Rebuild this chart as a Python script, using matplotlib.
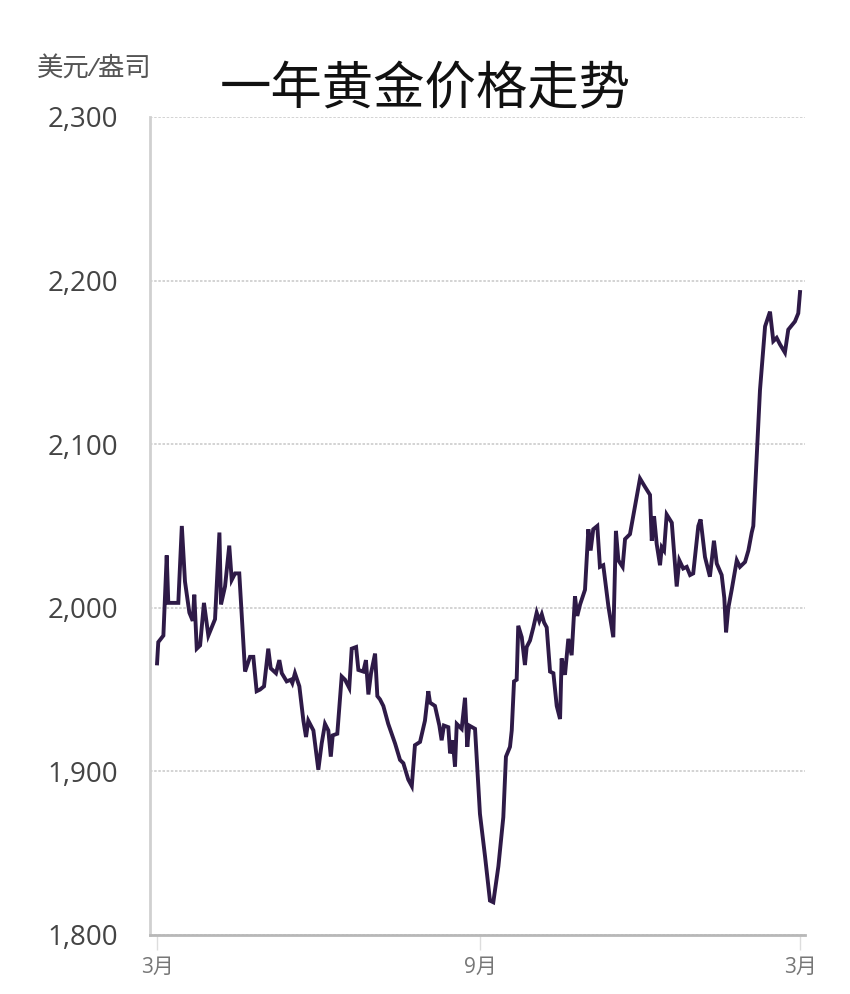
"""
一年黄金价格走势 (gold price, one year, USD/oz)
"""

import matplotlib
matplotlib.use("Agg")
import matplotlib.pyplot as plt

# days since start of March, price in USD/oz
days = [0, 0.7, 3.6, 5.5, 6.4, 12.1, 14.1, 15.9, 18.4, 20.3, 21.2, 22.6, 24.5,
        26.7, 29.2, 33.0, 35.5, 36.4, 38.7, 41.1, 42.5, 44.4, 46.8, 50.1, 52.9,
        54.8, 56.7, 58.6, 60.9, 63.3, 64.7, 67.7, 69.6, 71.0, 73.8, 76.1, 77.0,
        78.5, 81.0, 83.3, 84.8, 86.1, 89.0, 91.8, 93.7, 95.6, 97.5, 98.9, 100.0,
        102.6, 105.1, 107.0, 109.4, 110.8, 113.3, 114.6, 117.4, 118.9, 120.3,
        121.8, 124.1, 125.4, 126.9, 128.8, 131.6, 135.5, 138.3, 140.2, 143.0,
        145.0, 146.8, 149.7, 152.5, 154.4, 155.4, 158.2, 160.7, 162.0, 163.3,
        165.8, 166.8, 168.3, 169.6, 170.6, 173.4, 175.3, 176.6, 177.7, 181.0,
        183.8, 186.7, 189.5, 191.4, 194.3, 197.1, 198.6, 200.9, 201.9, 203.2,
        204.7, 205.6, 207.6, 209.4, 210.4, 212.3, 214.2, 216.1, 217.6, 219.0,
        220.3, 221.8, 223.7, 225.6, 227.5, 229.4, 230.3, 232.2, 234.1, 236.0,
        237.9, 239.2, 240.8, 243.6, 245.5, 246.8, 248.3, 250.6, 252.1, 254.0,
        256.9, 259.7, 261.2, 262.6, 265.0, 266.4, 269.2, 274.9, 277.7, 280.6,
        281.6, 282.9, 284.4, 286.3, 287.3, 288.6, 290.1, 293.0, 294.8, 295.8,
        297.3, 299.5, 301.5, 303.4, 305.2, 308.1, 309.4, 311.9, 314.7, 317.0,
        318.6, 321.4, 322.9, 323.9, 325.2, 327.1, 330.0, 331.8, 334.7, 336.6,
        338.5, 339.4, 343.2, 346.1, 348.9, 350.8, 352.7, 354.6, 357.4, 359.3,
        363.1, 365.0, 366.0]
price = [1966, 1979, 1983, 2032, 2003, 2003, 2050, 2016, 1997, 1992, 2008, 1975,
         1977, 2003, 1983, 1993, 2046, 2002, 2013, 2038, 2017, 2021, 2021, 1961,
         1970, 1970, 1949, 1950, 1952, 1975, 1963, 1960, 1968, 1960, 1955, 1956,
         1954, 1960, 1952, 1931, 1921, 1931, 1925, 1901, 1917, 1929, 1925, 1909,
         1922, 1923, 1958, 1956, 1951, 1975, 1976, 1962, 1961, 1968, 1947, 1960,
         1972, 1946, 1944, 1940, 1929, 1917, 1907, 1905, 1895, 1891, 1916, 1918,
         1931, 1949, 1942, 1940, 1928, 1919, 1928, 1927, 1911, 1919, 1903, 1929,
         1926, 1945, 1915, 1928, 1926, 1874, 1848, 1821, 1820, 1842, 1872, 1909,
         1915, 1925, 1955, 1956, 1989, 1982, 1965, 1976, 1980, 1988, 1997, 1992,
         1996, 1991, 1988, 1961, 1960, 1940, 1932, 1969, 1959, 1981, 1971, 2007,
         1995, 2002, 2011, 2048, 2035, 2048, 2050, 2025, 2026, 2001, 1982, 2047,
         2029, 2025, 2042, 2045, 2079, 2074, 2069, 2041, 2056, 2039, 2026, 2037,
         2035, 2057, 2052, 2027, 2013, 2029, 2024, 2025, 2020, 2021, 2050, 2054,
         2031, 2019, 2041, 2027, 2020, 2006, 1985, 2000, 2011, 2029, 2025, 2028,
         2035, 2046, 2050, 2133, 2172, 2181, 2163, 2165, 2161, 2156, 2170, 2175,
         2180, 2193]

tick_days = [0, 184, 366]
tick_labels = ["3月", "9月", "3月"]
yticks = [1800, 1900, 2000, 2100, 2200, 2300]

fonts = ["Open Sans", "Noto Sans CJK SC", "DejaVu Sans"]
plt.rcParams["font.family"] = fonts

fig = plt.figure(figsize=(8.5, 9.94), dpi=100)
ax = fig.add_axes([0.1765, 0.0594, 0.7705, 0.8229])

ax.plot(days, price, color="#2e1a47", linewidth=2.8, solid_joinstyle="miter")

ax.set_xlim(-4, 368.8)
ax.set_ylim(1800, 2300)
ax.set_yticks(yticks)
ax.set_yticklabels([f"{v:,}" for v in yticks], fontsize=20, color="#444444")
ax.set_xticks(tick_days)
ax.set_xticklabels(tick_labels, fontsize=15, color="#777777")
ax.tick_params(axis="y", length=0, pad=23)
ax.tick_params(axis="x", length=11, width=1, color="#dddddd", pad=5)

ax.grid(axis="y", color="#cccccc", linestyle=(0, (1.5, 1)), linewidth=1.2)
for s in ["top", "right"]:
    ax.spines[s].set_visible(False)
ax.spines["left"].set_color("#d0d0d0")
ax.spines["left"].set_linewidth(2)
ax.spines["bottom"].set_color("#b8b8b8")
ax.spines["bottom"].set_linewidth(2)

fig.text(0.5, 0.909, "一年黄金价格走势", fontsize=37, color="#111111",
         ha="center", va="center")
fig.text(0.043, 0.929, "美元/盎司", fontsize=19, color="#555555",
         ha="left", va="center", style="italic")

fig.savefig("out.png", dpi=100)
